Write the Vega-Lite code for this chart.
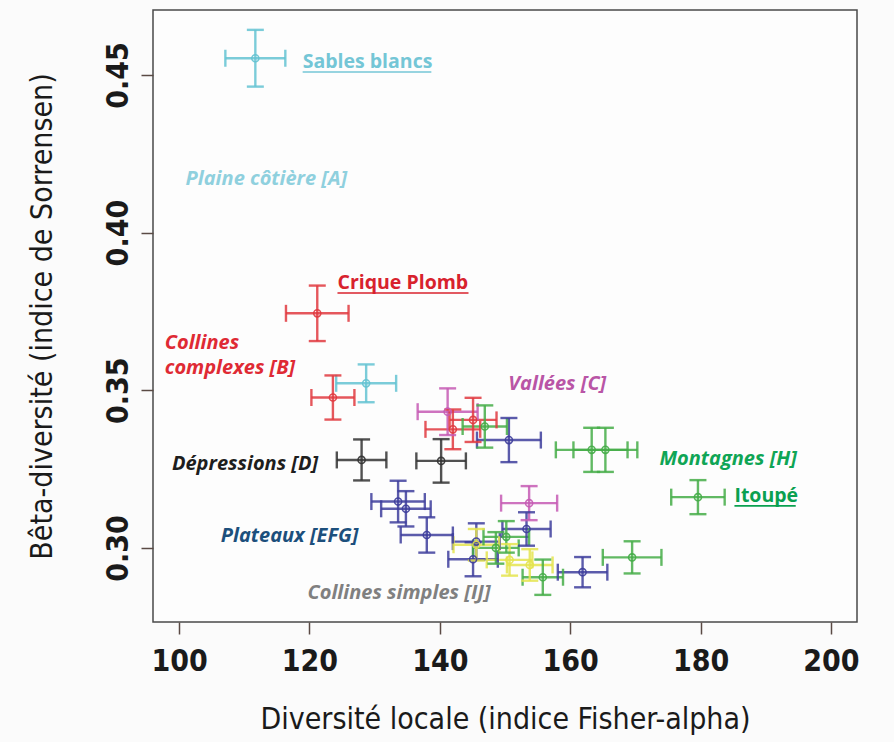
{
  "$schema": "https://vega.github.io/schema/vega-lite/v6.json",
  "width": 704,
  "height": 612,
  "autosize": {"type": "none"},
  "padding": {"left": 153, "top": 10, "right": 37, "bottom": 120},
  "background": "#fbfbfb",
  "config": {
    "view": {"stroke": "#4a4a4a", "strokeWidth": 1.5, "fill": "#fdfdfd"},
    "axis": {
      "domain": false,
      "grid": false,
      "tickColor": "#5a4a44",
      "tickWidth": 1.5,
      "tickSize": 12,
      "labelFont": "DejaVu Sans Condensed, Roboto",
      "labelFontWeight": "bold",
      "labelFontSize": 30,
      "labelColor": "#1a1a1a",
      "titleFont": "DejaVu Sans Condensed, Roboto",
      "titleFontWeight": "normal",
      "titleFontSize": 30,
      "titleColor": "#1a1a1a"
    }
  },
  "datasets": {
    "pts": [
      {"grp": "A", "x": 111.7, "xlo": 107.1, "xhi": 116.3, "y": 0.4553, "ylo": 0.4463, "yhi": 0.4643},
      {"grp": "A", "x": 128.7, "xlo": 124.1, "xhi": 133.3, "y": 0.3522, "ylo": 0.3462, "yhi": 0.3582},
      {"grp": "B", "x": 121.2, "xlo": 116.4, "xhi": 126.0, "y": 0.3744, "ylo": 0.3656, "yhi": 0.3832},
      {"grp": "B", "x": 123.6, "xlo": 120.3, "xhi": 126.9, "y": 0.3477, "ylo": 0.3407, "yhi": 0.3547},
      {"grp": "B", "x": 145.1, "xlo": 141.5, "xhi": 148.7, "y": 0.3406, "ylo": 0.3336, "yhi": 0.3476},
      {"grp": "B", "x": 142.0, "xlo": 137.8, "xhi": 146.2, "y": 0.3376, "ylo": 0.3313, "yhi": 0.3439},
      {"grp": "C", "x": 141.2, "xlo": 136.6, "xhi": 145.8, "y": 0.3432, "ylo": 0.3358, "yhi": 0.3506},
      {"grp": "C", "x": 153.7, "xlo": 149.4, "xhi": 158.0, "y": 0.3142, "ylo": 0.3088, "yhi": 0.3196},
      {"grp": "D", "x": 128.0, "xlo": 124.2, "xhi": 131.8, "y": 0.3279, "ylo": 0.3214, "yhi": 0.3344},
      {"grp": "D", "x": 140.2, "xlo": 136.4, "xhi": 144.0, "y": 0.3276, "ylo": 0.3207, "yhi": 0.3345},
      {"grp": "EFG", "x": 133.6, "xlo": 129.5, "xhi": 137.7, "y": 0.3147, "ylo": 0.3081, "yhi": 0.3213},
      {"grp": "EFG", "x": 134.8, "xlo": 131.0, "xhi": 138.6, "y": 0.3124, "ylo": 0.3068, "yhi": 0.318},
      {"grp": "EFG", "x": 138.0, "xlo": 134.0, "xhi": 142.0, "y": 0.3041, "ylo": 0.2985, "yhi": 0.3097},
      {"grp": "EFG", "x": 145.6, "xlo": 142.0, "xhi": 149.2, "y": 0.302, "ylo": 0.2962, "yhi": 0.3078},
      {"grp": "EFG", "x": 145.1, "xlo": 141.3, "xhi": 148.9, "y": 0.2964, "ylo": 0.291, "yhi": 0.3018},
      {"grp": "EFG", "x": 153.3, "xlo": 149.6, "xhi": 157.0, "y": 0.306, "ylo": 0.3007, "yhi": 0.3113},
      {"grp": "EFG", "x": 150.6, "xlo": 145.7, "xhi": 155.5, "y": 0.3342, "ylo": 0.3272, "yhi": 0.3412},
      {"grp": "EFG", "x": 161.9, "xlo": 158.1, "xhi": 165.7, "y": 0.2923, "ylo": 0.2875, "yhi": 0.2971},
      {"grp": "H", "x": 146.9, "xlo": 143.5, "xhi": 150.3, "y": 0.3385, "ylo": 0.3318, "yhi": 0.3452},
      {"grp": "H", "x": 163.3, "xlo": 157.8, "xhi": 168.8, "y": 0.3311, "ylo": 0.3241, "yhi": 0.3381},
      {"grp": "H", "x": 165.4, "xlo": 160.5, "xhi": 170.3, "y": 0.3311, "ylo": 0.3241, "yhi": 0.3381},
      {"grp": "H", "x": 179.6, "xlo": 175.5, "xhi": 183.7, "y": 0.3161, "ylo": 0.3107, "yhi": 0.3215},
      {"grp": "H", "x": 169.5, "xlo": 165.0, "xhi": 174.0, "y": 0.297, "ylo": 0.2919, "yhi": 0.3021},
      {"grp": "H", "x": 155.8, "xlo": 152.7, "xhi": 158.9, "y": 0.2907, "ylo": 0.2851, "yhi": 0.2963},
      {"grp": "H", "x": 150.2, "xlo": 146.7, "xhi": 153.7, "y": 0.3035, "ylo": 0.2985, "yhi": 0.3085},
      {"grp": "H", "x": 148.6, "xlo": 145.1, "xhi": 152.1, "y": 0.300, "ylo": 0.295, "yhi": 0.305},
      {"grp": "IJ", "x": 145.6, "xlo": 142.1, "xhi": 149.1, "y": 0.301, "ylo": 0.296, "yhi": 0.306},
      {"grp": "IJ", "x": 150.7, "xlo": 147.2, "xhi": 154.2, "y": 0.2962, "ylo": 0.2912, "yhi": 0.3012},
      {"grp": "IJ", "x": 153.8, "xlo": 150.3, "xhi": 157.3, "y": 0.2946, "ylo": 0.2896, "yhi": 0.2996}
    ],
    "regions": [
      {"lab": "Plaine côtière [A]", "grp": "A", "x": 101.0, "y": 0.417},
      {"lab": "Collines\ncomplexes [B]", "grp": "B", "x": 97.8, "y": 0.365},
      {"lab": "Vallées [C]", "grp": "C", "x": 150.5, "y": 0.352},
      {"lab": "Dépressions [D]", "grp": "D", "x": 98.9, "y": 0.3266},
      {"lab": "Plateaux [EFG]", "grp": "EFG", "x": 106.4, "y": 0.3038},
      {"lab": "Montagnes [H]", "grp": "H", "x": 173.7, "y": 0.3282},
      {"lab": "Collines simples [IJ]", "grp": "IJ", "x": 119.7, "y": 0.2857}
    ],
    "sites": [
      {"lab": "Sables blancs", "grp": "A site", "x": 118.96, "xend": 138.7, "y": 0.4541},
      {"lab": "Crique Plomb", "grp": "B site", "x": 124.3, "xend": 144.4, "y": 0.384},
      {"lab": "Itoupé", "grp": "H site", "x": 185.2, "xend": 194.6, "y": 0.3165}
    ]
  },
  "layer": [
    {
      "data": {"name": "pts"},
      "mark": {"type": "rule", "strokeWidth": 2.4, "opacity": 0.85},
      "encoding": {
        "x": {"field": "xlo", "type": "quantitative", "scale": {"domain": [96, 204], "nice": false, "zero": false},
          "axis": {"values": [100, 120, 140, 160, 180, 200], "title": "Diversité locale (indice Fisher-alpha)", "labelPadding": 12, "titlePadding": 28}},
        "x2": {"field": "xhi"},
        "y": {"field": "y", "type": "quantitative", "scale": {"domain": [0.2765, 0.4706], "nice": false, "zero": false},
          "axis": {"values": [0.30, 0.35, 0.40, 0.45], "format": ".2f", "labelAngle": -90, "title": "Bêta-diversité (indice de Sorrensen)", "labelPadding": 8, "titlePadding": 46}},
        "color": {"field": "grp", "type": "nominal", "legend": null,
          "scale": {"domain": ["A", "B", "C", "D", "EFG", "H", "IJ"], "range": ["#64c3d2", "#e03a40", "#c65bb4", "#333333", "#3e3e9c", "#45ad48", "#e4e44e"]}}
      }
    },
    {
      "data": {"name": "pts"},
      "mark": {"type": "rule", "strokeWidth": 2.4, "opacity": 0.85},
      "encoding": {
        "x": {"field": "x", "type": "quantitative"},
        "y": {"field": "ylo", "type": "quantitative"},
        "y2": {"field": "yhi"},
        "color": {"field": "grp", "type": "nominal"}
      }
    },
    {
      "data": {"name": "pts"},
      "mark": {"type": "tick", "orient": "vertical", "size": 17, "thickness": 2.4, "opacity": 0.85},
      "encoding": {
        "x": {"field": "xlo", "type": "quantitative"},
        "y": {"field": "y", "type": "quantitative"},
        "color": {"field": "grp", "type": "nominal"}
      }
    },
    {
      "data": {"name": "pts"},
      "mark": {"type": "tick", "orient": "vertical", "size": 17, "thickness": 2.4, "opacity": 0.85},
      "encoding": {
        "x": {"field": "xhi", "type": "quantitative"},
        "y": {"field": "y", "type": "quantitative"},
        "color": {"field": "grp", "type": "nominal"}
      }
    },
    {
      "data": {"name": "pts"},
      "mark": {"type": "tick", "orient": "horizontal", "size": 17, "thickness": 2.4, "opacity": 0.85},
      "encoding": {
        "x": {"field": "x", "type": "quantitative"},
        "y": {"field": "ylo", "type": "quantitative"},
        "color": {"field": "grp", "type": "nominal"}
      }
    },
    {
      "data": {"name": "pts"},
      "mark": {"type": "tick", "orient": "horizontal", "size": 17, "thickness": 2.4, "opacity": 0.85},
      "encoding": {
        "x": {"field": "x", "type": "quantitative"},
        "y": {"field": "yhi", "type": "quantitative"},
        "color": {"field": "grp", "type": "nominal"}
      }
    },
    {
      "data": {"name": "pts"},
      "mark": {"type": "point", "shape": "circle", "filled": false, "size": 50, "strokeWidth": 1.6, "opacity": 0.9},
      "encoding": {
        "x": {"field": "x", "type": "quantitative"},
        "y": {"field": "y", "type": "quantitative"},
        "color": {"field": "grp", "type": "nominal"}
      }
    },
    {
      "data": {"name": "regions"},
      "mark": {"type": "text", "align": "left", "baseline": "middle", "font": "Open Sans", "fontStyle": "italic", "fontWeight": "bold", "fontSize": 20, "lineBreak": "\n", "lineHeight": 25},
      "encoding": {
        "x": {"field": "x", "type": "quantitative"},
        "y": {"field": "y", "type": "quantitative"},
        "text": {"field": "lab"},
        "fill": {"field": "grp", "type": "nominal", "legend": null,
          "scale": {"domain": ["A", "B", "C", "D", "EFG", "H", "IJ", "A site", "B site", "H site"], "range": ["#8fd0de", "#df2a34", "#b955a6", "#1e1e1e", "#1c4f7c", "#0fa555", "#808080", "#74c6d6", "#d8222d", "#0aa050"]}}
      }
    },
    {
      "data": {"name": "sites"},
      "mark": {"type": "text", "align": "left", "baseline": "middle", "font": "Open Sans", "fontWeight": "bold", "fontSize": 19.5},
      "encoding": {
        "x": {"field": "x", "type": "quantitative"},
        "y": {"field": "y", "type": "quantitative"},
        "text": {"field": "lab"},
        "fill": {"field": "grp", "type": "nominal"}
      }
    },
    {
      "data": {"name": "sites"},
      "mark": {"type": "rule", "strokeWidth": 1.6, "yOffset": 10},
      "encoding": {
        "x": {"field": "x", "type": "quantitative"},
        "x2": {"field": "xend"},
        "y": {"field": "y", "type": "quantitative"},
        "stroke": {"field": "grp", "type": "nominal", "legend": null,
          "scale": {"domain": ["A site", "B site", "H site"], "range": ["#74c6d6", "#d8222d", "#0aa050"]}}
      }
    }
  ]
}
